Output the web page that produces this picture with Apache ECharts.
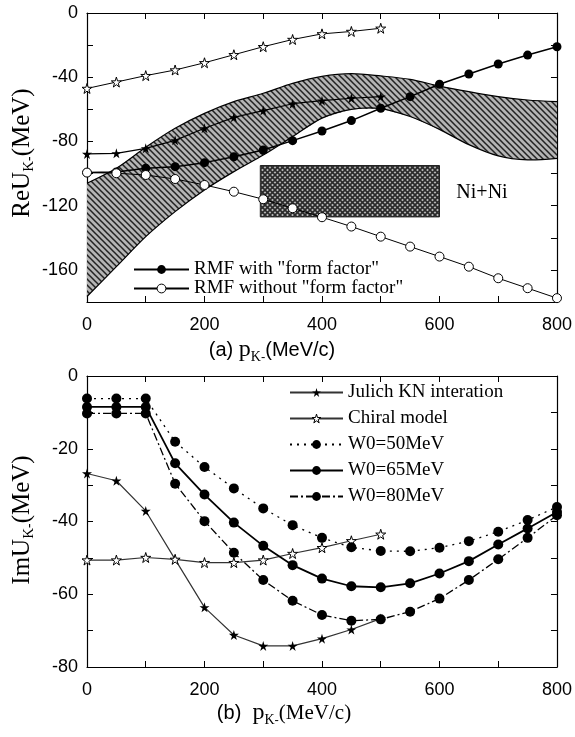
<!DOCTYPE html>
<html><head><meta charset="utf-8">
<script src="https://cdn.jsdelivr.net/npm/echarts@6/dist/echarts.min.js"></script>
<style>html,body{margin:0;padding:0;background:#fff}#c{width:575px;height:737px}</style>
</head><body><div id="c"></div>
<script>
// ---------- data ----------
const xs11 = [0,50,100,150,200,250,300,350,400,450,500];
const xs17 = [0,50,100,150,200,250,300,350,400,450,500,550,600,650,700,750,800];
// panel (a)
const chiralA = [-47,-43,-39,-35.5,-31,-26,-21,-16.5,-13,-11.5,-9.5];
const julichA = [-87.8,-87.4,-84.3,-79.3,-71.8,-65,-60.8,-56.5,-54.6,-53.1,-52.1];
const rmfWith = [-99.4,-99,-96.7,-95.7,-93.2,-89.5,-85.3,-79.5,-73.5,-67,-59.3,-52.1,-44.4,-38,-31.8,-26.2,-21];
const rmfWithout = [-99.4,-99.8,-100.9,-103.4,-107.1,-111.3,-116,-121.6,-127.2,-133,-139.3,-145.5,-151.7,-158,-165.2,-171.4,-177.6];
const bandUpper = [-106,-96.7,-83.6,-71.8,-62.5,-55.2,-50,-43.8,-39.5,-37.8,-39.2,-41.3,-45.5,-49,-52.1,-54.2,-55.2];
const bandLower = [-176.6,-158,-139.3,-123.7,-110.2,-98.8,-88.5,-77,-65.5,-60,-59.5,-64.5,-72.5,-82,-89,-91.5,-90.5];
const niRectX = [295,600];
const niRectY = [-127,-95];
// panel (b)
const julichB = [-26.8,-28.8,-37.1,-50.4,-63.6,-71.2,-74.2,-74.2,-72.2,-69.7,-66.7];
const chiralB = [-50.6,-50.6,-49.9,-50.4,-51.3,-51.3,-50.6,-48.8,-47.2,-45.3,-43.5];
const w50 = [-6.2,-6.2,-6.2,-18.1,-25,-30.9,-36.4,-41,-44.5,-47.1,-48.1,-48.2,-47.2,-45.4,-42.8,-39.6,-36];
const w65 = [-8.5,-8.5,-8.5,-24,-32.6,-40.3,-46.7,-52,-55.7,-57.8,-58.1,-57,-54.3,-50.9,-46.3,-41.9,-37.4];
const w80 = [-10.3,-10.3,-10.3,-29.6,-39.9,-48.6,-56.1,-61.8,-65.7,-67.3,-66.9,-64.8,-61.2,-56.1,-50.4,-44.5,-38.3];
const xTicksLabelStep = 200;

// ---------- styles ----------
const STAR = 'path://M50,0 L61,35 L98,35 L68,57 L79,91 L50,70 L21,91 L32,57 L2,35 L39,35 Z';
function makeHatch(){
  const c=document.createElement('canvas'); c.width=6; c.height=6;
  const g=c.getContext('2d'); g.fillStyle='#b4b4b4'; g.fillRect(0,0,6,6);
  g.strokeStyle='#222'; g.lineWidth=1.5; g.beginPath();
  g.moveTo(-1,-1); g.lineTo(7,7); g.moveTo(-1,5); g.lineTo(1,7); g.moveTo(5,-1); g.lineTo(7,1); g.stroke();
  return c;
}
function makeCross(){
  const c=document.createElement('canvas'); c.width=5; c.height=5;
  const g=c.getContext('2d'); g.fillStyle='#b8b8b8'; g.fillRect(0,0,5,5);
  g.strokeStyle='#2a2a2a'; g.lineWidth=1.6; g.beginPath();
  g.moveTo(-1,-1); g.lineTo(6,6); g.moveTo(6,-1); g.lineTo(-1,6); g.stroke();
  return c;
}
const hatch = {type:'pattern', image: makeHatch(), repeat:'repeat'};
const cross = {type:'pattern', image: makeCross(), repeat:'repeat'};
const pairs = (xs, ys) => xs.map((x,i)=>[x, ys[i]]);

const lblFont = {fontFamily:'Liberation Sans', fontSize:18, color:'#000'};
function xAx(grid, pos){
  return {gridIndex:grid, type:'value', min:0, max:800, interval:100, position:pos,
    axisLine:{show:true, onZero:false, lineStyle:{color:'#000', width:1.2}},
    axisTick:{show:true, inside:true, length:6, lineStyle:{color:'#000', width:1}},
    axisLabel: pos==='bottom' ? Object.assign({margin:14, formatter:v=> v%xTicksLabelStep===0? String(v):''}, lblFont) : {show:false},
    splitLine:{show:false}};
}
function yAx(grid, pos, min, interval, lab){
  return {gridIndex:grid, type:'value', min:min, max:0, interval:interval, position:pos,
    axisLine:{show:true, onZero:false, lineStyle:{color:'#000', width:1.2}},
    axisTick:{show:true, inside:true, length:6, lineStyle:{color:'#000', width:1}},
    axisLabel: pos==='left' ? Object.assign({margin:9, formatter:v=> v%lab===0? String(v):''}, lblFont) : {show:false},
    splitLine:{show:false}};
}

const chart = echarts.init(document.getElementById('c'), null, {renderer:'canvas'});
const serifRich = {
  b:{fontFamily:'Liberation Serif', fontSize:25, color:'#000', lineHeight:30},
  s:{fontFamily:'Liberation Serif', fontSize:15, color:'#000', lineHeight:15, verticalAlign:'bottom'},
  m:{fontFamily:'Liberation Sans', fontSize:14, color:'#000', lineHeight:25, verticalAlign:'bottom'}
};
const xRich = {
  a:{fontFamily:'Liberation Sans', fontSize:20, color:'#000', lineHeight:28},
  r:{fontFamily:'Liberation Serif', fontSize:21, color:'#000', lineHeight:28},
  p:{fontFamily:'Liberation Serif', fontSize:24, color:'#000', lineHeight:28},
  s:{fontFamily:'Liberation Serif', fontSize:14, color:'#000', lineHeight:14, verticalAlign:'bottom'},
  m:{fontFamily:'Liberation Sans', fontSize:13, color:'#000', lineHeight:23, verticalAlign:'bottom'}
};
const openStar = {color:'#fff', borderColor:'#000', borderWidth:1};

const option = {
  backgroundColor:'#fff',
  animation:false,
  grid:[{left:87, top:13, width:470, height:289}, {left:87, top:376, width:470, height:291}],
  xAxis:[xAx(0,'bottom'), xAx(0,'top'), xAx(1,'bottom'), xAx(1,'top')],
  yAxis:[yAx(0,'left',-180,20,40), yAx(0,'right',-180,20,40), yAx(1,'left',-80,10,20), yAx(1,'right',-80,10,20)],
  legend:[
    {data:['RMF with "form factor"',{name:'RMF without "form factor"', itemStyle:openStar}], orient:'vertical', left:133, top:260, padding:0,
     itemWidth:55, itemHeight:11, itemGap:0, selectedMode:false,
     textStyle:{fontFamily:'Liberation Serif', fontSize:19, color:'#000', lineHeight:19}},
    {data:['Julich KN interation',{name:'Chiral model', itemStyle:openStar},'W0=50MeV','W0=65MeV','W0=80MeV'], orient:'vertical', left:289, top:383, padding:0,
     itemWidth:53, itemHeight:11, itemGap:7, selectedMode:false,
     textStyle:{fontFamily:'Liberation Serif', fontSize:19, color:'#000', lineHeight:19}}
  ],
  graphic:[
    {type:'text', x:22, y:153, rotation:Math.PI/2, style:{text:'{b|ReU}{s|K}{m|-}{b|(MeV)}', rich:serifRich, align:'center', verticalAlign:'middle'}},
    {type:'text', x:22, y:520, rotation:Math.PI/2, style:{text:'{b|ImU}{s|K}{m|-}{b|(MeV)}', rich:serifRich, align:'center', verticalAlign:'middle'}},
    {type:'text', x:272, y:350, style:{text:'{a|(a) }{p|p}{s|K}{m|-}{a|(MeV/c)}', rich:xRich, align:'center', verticalAlign:'middle'}},
    {type:'text', x:284, y:713, style:{text:'{a|(b)  }{p|p}{s|K}{m|-}{r|(MeV/c)}', rich:xRich, align:'center', verticalAlign:'middle'}},
    {type:'text', x:482, y:193, style:{text:'Ni+Ni', fontFamily:'Liberation Serif', fontSize:20, fill:'#000', align:'center', verticalAlign:'middle'}}
  ],
  series:[
    {type:'custom', name:'band', xAxisIndex:0, yAxisIndex:0, z:1, silent:true, data:[[0,0]],
     renderItem:(p, api)=>{
       const up = xs17.map((x,i)=>api.coord([x, bandUpper[i]]));
       const lo = xs17.map((x,i)=>api.coord([x, bandLower[i]]));
       return {type:'group', children:[
         {type:'polygon', shape:{points: up.concat(lo.slice().reverse())}, style:{fill:hatch, stroke:null}},
         {type:'polyline', shape:{points: up, smooth:0.3}, style:{fill:null, stroke:'#000', lineWidth:1.2}},
         {type:'polyline', shape:{points: lo, smooth:0.3}, style:{fill:null, stroke:'#000', lineWidth:1.2}}
       ]};
     }},
    {type:'custom', name:'rect', xAxisIndex:0, yAxisIndex:0, z:1, silent:true, data:[[niRectX[0], niRectY[0]]],
     renderItem:(p, api)=>{
       const a = api.coord([niRectX[0], niRectY[1]]);
       const b = api.coord([niRectX[1], niRectY[0]]);
       return {type:'rect', shape:{x:a[0], y:a[1], width:b[0]-a[0], height:b[1]-a[1]}, style:{fill:cross, stroke:'#222', lineWidth:1}};
     }},
    {type:'line', name:'Chiral (a)', xAxisIndex:0, yAxisIndex:0, z:3, data:pairs(xs11, chiralA),
     symbol:STAR, symbolSize:10, itemStyle:openStar, lineStyle:{color:'#000', width:1}},
    {type:'line', name:'Julich (a)', xAxisIndex:0, yAxisIndex:0, z:3, data:pairs(xs11, julichA),
     symbol:STAR, symbolSize:10, itemStyle:{color:'#000'}, lineStyle:{color:'#000', width:1.2}},
    {type:'line', name:'RMF with "form factor"', xAxisIndex:0, yAxisIndex:0, z:3, data:pairs(xs17, rmfWith),
     symbol:'circle', symbolSize:9, itemStyle:{color:'#000'}, lineStyle:{color:'#000', width:1.5}},
    {type:'line', name:'RMF without "form factor"', xAxisIndex:0, yAxisIndex:0, z:4, data:pairs(xs17, rmfWithout),
     symbol:'circle', symbolSize:9, itemStyle:openStar, lineStyle:{color:'#000', width:1}},

    {type:'line', name:'Julich KN interation', xAxisIndex:2, yAxisIndex:2, z:3, data:pairs(xs11, julichB),
     symbol:STAR, symbolSize:10, itemStyle:{color:'#000'}, lineStyle:{color:'#333', width:1.2}},
    {type:'line', name:'Chiral model', xAxisIndex:2, yAxisIndex:2, z:3, data:pairs(xs11, chiralB),
     symbol:STAR, symbolSize:10, itemStyle:openStar, lineStyle:{color:'#333', width:1.2}},
    {type:'line', name:'W0=50MeV', xAxisIndex:2, yAxisIndex:2, z:3, data:pairs(xs17, w50),
     symbol:'circle', symbolSize:10, itemStyle:{color:'#000'}, lineStyle:{color:'#000', width:1.3, type:[2,5]}},
    {type:'line', name:'W0=65MeV', xAxisIndex:2, yAxisIndex:2, z:3, data:pairs(xs17, w65),
     symbol:'circle', symbolSize:10, itemStyle:{color:'#000'}, lineStyle:{color:'#000', width:1.8}},
    {type:'line', name:'W0=80MeV', xAxisIndex:2, yAxisIndex:2, z:3, data:pairs(xs17, w80),
     symbol:'circle', symbolSize:10, itemStyle:{color:'#000'}, lineStyle:{color:'#000', width:1.3, type:[8,3,2,3]}}
  ]
};
chart.setOption(option);
</script></body></html>
